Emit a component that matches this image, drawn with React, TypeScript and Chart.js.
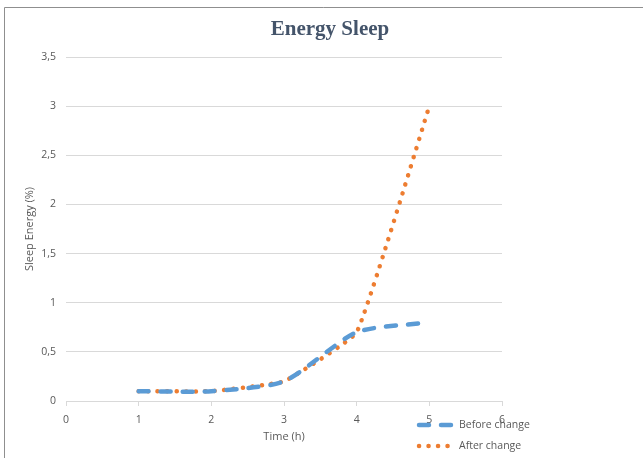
import React, { useEffect, useRef } from 'react';
import { Chart, registerables } from 'chart.js';

Chart.register(...registerables);

const xValues = [1, 2, 3, 4, 5];
const beforeChange = [0.1, 0.1, 0.2, 0.7, 0.8];
const afterChange = [0.1, 0.1, 0.2, 0.7, 3];
const xTicks = [0, 1, 2, 3, 4, 5, 6];
const yTicks = [0, 0.5, 1, 1.5, 2, 2.5, 3, 3.5];
const seriesNames = ['Before change', 'After change'];
const seriesColors = ['#5B9BD5', '#ED7D31'];
const titleText = 'Energy Sleep';
const xTitle = 'Time (h)';
const yTitle = 'Sleep Energy (%)';

const W = 643;
const H = 458;
const FONT = '"Open Sans", "Noto Sans", sans-serif';
const TEXT = '#595959';
const GRID = '#d9d9d9';

const decorPlugin = {
  id: 'decor',
  afterDraw(chart: any) {
    const ctx = chart.ctx as CanvasRenderingContext2D;
    ctx.save();
    // frame
    ctx.strokeStyle = '#8f8f8f';
    ctx.lineWidth = 1;
    ctx.setLineDash([]);
    ctx.beginPath();
    ctx.moveTo(4.5, H);
    ctx.lineTo(4.5, 7.5);
    ctx.lineTo(W, 7.5);
    ctx.stroke();
    // title
    ctx.font = 'bold 21px "Liberation Serif", serif';
    ctx.fillStyle = '#44546A';
    ctx.textAlign = 'center';
    ctx.textBaseline = 'middle';
    ctx.fillText(titleText, 330, 30);
    // legend
    chart.data.datasets.forEach((ds: any, i: number) => {
      const y = 425 + i * 21;
      ctx.save();
      ctx.strokeStyle = ds.borderColor;
      ctx.lineWidth = ds.borderWidth;
      ctx.lineCap = 'round';
      ctx.setLineDash(ds.borderDash);
      ctx.beginPath();
      ctx.moveTo(419, y);
      ctx.lineTo(453, y);
      ctx.stroke();
      ctx.restore();
      ctx.font = '10.5px ' + FONT;
      ctx.fillStyle = TEXT;
      ctx.textAlign = 'left';
      ctx.textBaseline = 'middle';
      ctx.fillText(ds.label, 459, y);
    });
    ctx.restore();
  },
};

export default function App() {
  const ref = useRef<HTMLCanvasElement | null>(null);

  useEffect(() => {
    if (!ref.current) return;
    const chart = new Chart(ref.current, {
      type: 'line',
      data: {
        datasets: [
          {
            label: seriesNames[0],
            data: xValues.map((x, i) => ({ x, y: beforeChange[i] })),
            borderColor: seriesColors[0],
            backgroundColor: seriesColors[0],
            borderWidth: 4.5,
            borderDash: [10, 12],
            borderCapStyle: 'round',
            pointRadius: 0,
            tension: 0.22,
            fill: false,
          },
          {
            label: seriesNames[1],
            data: xValues.map((x, i) => ({ x, y: afterChange[i] })),
            borderColor: seriesColors[1],
            backgroundColor: seriesColors[1],
            borderWidth: 4.5,
            borderDash: [0.1, 9.4],
            borderCapStyle: 'round',
            pointRadius: 0,
            tension: 0.1,
            fill: false,
          },
        ],
      },
      options: {
        responsive: false,
        animation: false,
        layout: { padding: { left: 0, top: 57, right: 141, bottom: 0 } },
        plugins: {
          legend: { display: false },
          title: { display: false },
          tooltip: { enabled: false },
        },
        scales: {
          x: {
            type: 'linear',
            min: 0,
            max: 6,
            afterBuildTicks: (s: any) => {
              s.ticks = xTicks.map((v) => ({ value: v }));
            },
            afterFit: (s: any) => {
              s.height = 57;
            },
            ticks: {
              color: TEXT,
              font: { family: FONT, size: 10.5 },
              padding: 8,
              maxRotation: 0,
            },
            grid: {
              drawOnChartArea: false,
              drawTicks: true,
              tickLength: 5,
              color: GRID,
            },
            border: { display: true, color: GRID },
            title: {
              display: true,
              text: xTitle,
              color: TEXT,
              font: { family: FONT, size: 11 },
              padding: { top: 0, bottom: 15 },
            },
          },
          y: {
            min: 0,
            max: 3.5,
            afterBuildTicks: (s: any) => {
              s.ticks = yTicks.map((v) => ({ value: v }));
            },
            afterFit: (s: any) => {
              s.width = 66;
            },
            ticks: {
              color: TEXT,
              font: { family: FONT, size: 10.5 },
              padding: 10,
              callback: (v: any) => String(v).replace('.', ','),
            },
            grid: { drawTicks: false, color: GRID },
            border: { display: false },
            title: {
              display: true,
              text: yTitle,
              color: TEXT,
              font: { family: FONT, size: 11 },
              padding: { top: 23, bottom: 0 },
            },
          },
        },
      },
      plugins: [decorPlugin],
    } as any);
    return () => chart.destroy();
  }, []);

  return (
    <div style={{ position: 'absolute', left: 0, top: 0, width: W, height: H, background: '#fff' }}>
      <canvas ref={ref} width={W} height={H} style={{ display: 'block' }} />
    </div>
  );
}
